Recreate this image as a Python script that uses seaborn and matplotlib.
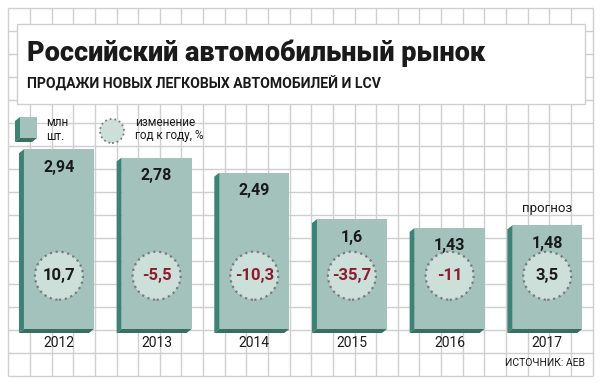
import numpy as np
import pandas as pd
import matplotlib
matplotlib.use('Agg')
import matplotlib.pyplot as plt
import seaborn as sns
from matplotlib.patches import Rectangle, Polygon

# data
years = ['2012', '2013', '2014', '2015', '2016', '2017']
sales = [2.94, 2.78, 2.49, 1.6, 1.43, 1.48]          # млн шт.
change = [10.7, -5.5, -10.3, -35.7, -11, 3.5]        # % год к году

FRONT = '#a2c2bb'
SIDE = '#3e8275'
BOTTOM = '#376f63'
CIRCLE = '#cddfd9'
RED = '#8e1b2f'
DARK = '#1a1a1a'
GRID = '#cfcfcf'

sns.set_theme(style='white')
plt.rcParams['font.family'] = ['Roboto', 'DejaVu Sans']


def fmt(v):
    return f'{v:g}'.replace('.', ',')


fig = plt.figure(figsize=(6, 3.83), dpi=100)

# background: paper grid, title box, legend (pixel coords, y down)
bg = fig.add_axes([0, 0, 1, 1])
bg.set_xlim(0, 600)
bg.set_ylim(383, 0)
bg.axis('off')
xs = 8.3 + 21.64 * np.arange(28)
ys = 8 + 23 * np.arange(17)
bg.vlines(xs, 8, 376, color=GRID, lw=1.0, zorder=0)
bg.hlines(ys, 8.3, 592.7, color=GRID, lw=1.0, zorder=0)

bg.add_patch(Rectangle((17, 24), 568, 80, fc='white', ec=GRID, lw=1.0, zorder=1))
bg.text(27, 61, 'Российский автомобильный рынок', fontsize=19.5, fontweight='heavy',
        color=DARK, va='baseline', zorder=2)
bg.text(27, 89, 'ПРОДАЖИ НОВЫХ ЛЕГКОВЫХ АВТОМОБИЛЕЙ И LCV', fontsize=10.1,
        fontweight='bold', color=DARK, va='baseline', zorder=2)

# legend
bg.add_patch(Rectangle((20, 117), 17, 21, fc=FRONT, ec='none', zorder=2))
bg.add_patch(Polygon([(20, 117), (20, 138), (15, 142), (15, 121)], fc=SIDE, ec='none', zorder=2))
bg.add_patch(Polygon([(20, 138), (37, 138), (32, 142), (15, 142)], fc=BOTTOM, ec='none', zorder=2))
bg.text(46, 123, 'млн', fontsize=8.5, color=DARK, va='center', zorder=2)
bg.text(46, 136, 'шт.', fontsize=8.5, color=DARK, va='center', zorder=2)
bg.scatter([112], [131], s=(24 * 0.72) ** 2, fc=CIRCLE, ec='#7a7a7a', linewidths=1.3,
           linestyle=':', zorder=2)
bg.text(135, 123, 'изменение', fontsize=8.5, color=DARK, va='center', zorder=2)
bg.text(135, 136, 'год к году, %', fontsize=8.5, color=DARK, va='center', zorder=2)
bg.text(585, 363, 'ИСТОЧНИК: AEB', fontsize=7.5, color=DARK, ha='right', va='center', zorder=2)

# main bars
BASE = -0.508
TOP = 3.5
ax = fig.add_axes([10.1 / 600, 54 / 383, 586 / 600, 209 / 383])
ax.patch.set_alpha(0)
df = pd.DataFrame({'year': years, 'sales': sales})
sns.barplot(data=df, x='year', y='sales', color=FRONT, saturation=1, width=0.716,
            errorbar=None, ax=ax, zorder=3)
ax.set_xlim(-0.5, len(years) - 0.5)
ax.set_ylim(BASE, TOP)

dx = 5 / (586 / len(years))
dy = 4 / (209 / (TOP - BASE))
for p in ax.patches:
    h = p.get_height()
    p.set_y(BASE)
    p.set_height(h - BASE)
    p.set_edgecolor('none')
    x0 = p.get_x()
    x1 = x0 + p.get_width()
    yt = h
    ax.add_patch(Polygon([(x0, yt), (x0, BASE), (x0 - dx, BASE - dy), (x0 - dx, yt - dy)],
                         fc=SIDE, ec='none', clip_on=False, zorder=3))
    ax.add_patch(Polygon([(x0, BASE), (x1, BASE), (x1 - dx, BASE - dy), (x0 - dx, BASE - dy)],
                         fc=BOTTOM, ec='none', clip_on=False, zorder=3))

pos = np.arange(len(years))
trans = ax.get_xaxis_transform()
ax.scatter(pos, np.full(len(years), 0.255), transform=trans, s=(48 * 0.72) ** 2,
           fc=CIRCLE, ec='#7a7a7a', linewidths=1.6, linestyle=':', zorder=4, clip_on=False)

for i, (s, c) in enumerate(zip(sales, change)):
    ax.annotate(fmt(s), (i, s), xytext=(0, -13), textcoords='offset points',
                ha='center', va='center', fontsize=11.5, fontweight='bold', color=DARK, zorder=5)
    ax.text(i, 0.255, fmt(c), transform=trans, ha='center', va='center', fontsize=12,
            fontweight='bold', color=RED if c < 0 else DARK, zorder=5)

ax.annotate('прогноз', (len(years) - 1, sales[-1]), xytext=(0, 12), textcoords='offset points',
            ha='center', va='center', fontsize=9.5, color=DARK)

ax.set_xlabel('')
ax.set_ylabel('')
ax.set_yticks([])
ax.tick_params(axis='x', length=0, pad=5, labelsize=10, labelcolor=DARK)
sns.despine(ax=ax, left=True, bottom=True)

fig.savefig('out.png', dpi=100)
